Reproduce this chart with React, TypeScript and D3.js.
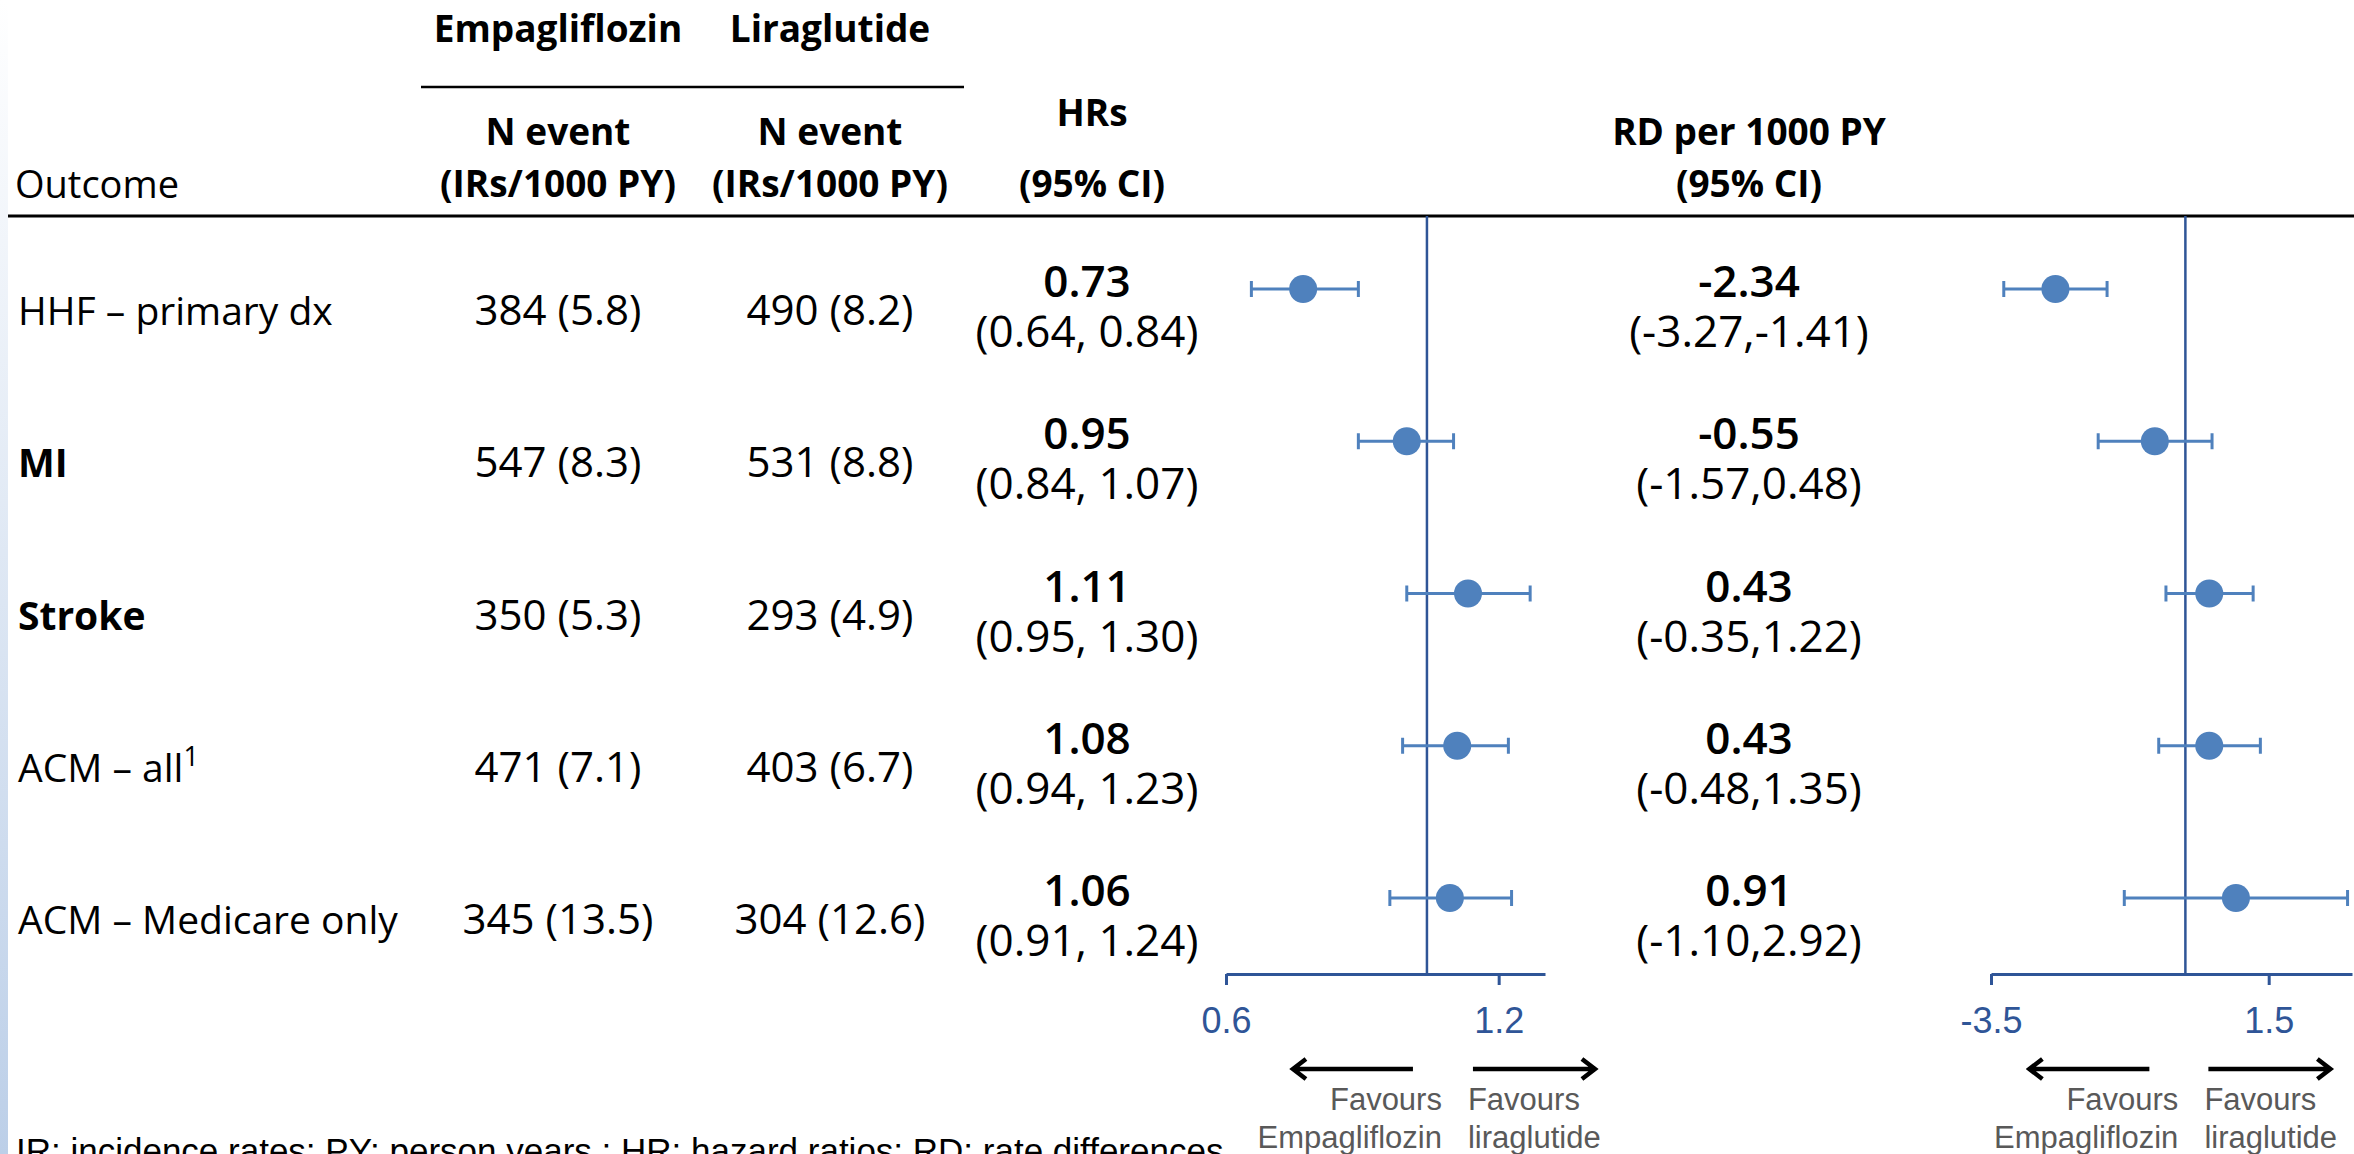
import React, { useEffect, useRef } from "react";
import * as d3 from "d3";

const width = 2354;
const height = 1154;

// table rows
const outcomes = ["HHF – primary dx", "MI", "Stroke", "ACM – all", "ACM – Medicare only"];
const outcomeNotes = ["", "", "", "1", ""];
const empaEvents = [384, 547, 350, 471, 345];
const empaRates = [5.8, 8.3, 5.3, 7.1, 13.5];
const liraEvents = [490, 531, 293, 403, 304];
const liraRates = [8.2, 8.8, 4.9, 6.7, 12.6];

// hazard ratios (95% CI)
const hr = [0.73, 0.95, 1.11, 1.08, 1.06];
const hrLow = [0.64, 0.84, 0.95, 0.94, 0.91];
const hrHigh = [0.84, 1.07, 1.3, 1.23, 1.24];

// rate differences per 1000 PY (95% CI)
const rd = [-2.34, -0.55, 0.43, 0.43, 0.91];
const rdLow = [-3.27, -1.57, -0.35, -0.48, -1.1];
const rdHigh = [-1.41, 0.48, 1.22, 1.35, 2.92];

const hrTicks = [0.6, 1.2];
const rdTicks = [-3.5, 1.5];
const drugs = ["Empagliflozin", "Liraglutide"];
const favours = ["Empagliflozin", "liraglutide"];
const footnote = "IR: incidence rates; PY: person years ; HR: hazard ratios; RD: rate differences";

// styles
const tableFont = "'Open Sans', sans-serif";
const axisFont = "'Liberation Sans', Arial, sans-serif";
const dotColor = "#4F81BD";
const lineColor = "#2F5597";
const boldRows = new Set(["MI", "Stroke"]);

// layout
const topRule = 216;
const axisY = 974;
const colX = { outcome: 18, empa: 558, lira: 830, hr: 1087, rd: 1749 };

const yRow = d3.scalePoint<string>().domain(outcomes).range([289, 898]);
const xHr = d3.scaleLog().domain([0.6, 1.35]).range([1226, 1545]);
const xRd = d3.scaleLinear().domain([-3.5, 3]).range([1991, 2352]);

const f2 = (v: number) => d3.format(".2f")(v).replace(/−/g, "-");
const f1 = d3.format(".1f");

const panels = [
  {
    key: "hr",
    scale: xHr,
    ref: 1,
    ticks: hrTicks,
    est: hr,
    lo: hrLow,
    hi: hrHigh,
    arrows: { lTail: -14, lTip: -134, rTail: 46, rTip: 168, lText: 15, rText: 41 },
  },
  {
    key: "rd",
    scale: xRd,
    ref: 0,
    ticks: rdTicks,
    est: rd,
    lo: rdLow,
    hi: rdHigh,
    arrows: { lTail: -36, lTip: -156, rTail: 23, rTip: 145, lText: -7, rText: 19 },
  },
];

const Axis = ({ scale, ticks }: { scale: any; ticks: number[] }) => {
  const ref = useRef<SVGGElement>(null);
  useEffect(() => {
    const g = d3.select(ref.current);
    g.call(
      d3
        .axisBottom(scale)
        .tickValues(ticks)
        .tickFormat((d: any) => String(d))
        .tickSize(11)
        .tickSizeOuter(0)
        .tickPadding(22)
    );
    g.select(".domain").attr("stroke", lineColor).attr("stroke-width", 3);
    g.selectAll(".tick line").attr("stroke", lineColor).attr("stroke-width", 3);
    g.selectAll(".tick text")
      .attr("fill", lineColor)
      .attr("font-size", 36)
      .attr("font-family", axisFont);
  }, [scale, ticks]);
  return <g ref={ref} transform={`translate(0,${axisY})`} />;
};

const Arrow = ({ tail, tip, y }: { tail: number; tip: number; y: number }) => {
  const d = tip < tail ? 13 : -13;
  return (
    <path
      d={`M${tail},${y}H${tip}M${tip + d},${y - 10}L${tip},${y}L${tip + d},${y + 10}`}
      stroke="#000"
      strokeWidth={4.5}
      fill="none"
    />
  );
};

const App = () => {
  return (
    <svg
      width={width}
      height={height}
      style={{ position: "absolute", left: 0, top: 0, background: "#fff" }}
    >
      <defs>
        <linearGradient id="edge" x1="0" y1="0" x2="0" y2="1">
          <stop offset="0" stopColor="#ffffff" />
          <stop offset="1" stopColor="#bccfe8" />
        </linearGradient>
      </defs>
      <rect x={0} y={0} width={8} height={height} fill="url(#edge)" />

      {/* header */}
      <g fontFamily={tableFont} fontWeight={700} fontSize={37} textAnchor="middle" fill="#000">
        <text x={colX.empa} y={42}>{drugs[0]}</text>
        <text x={colX.lira} y={42}>{drugs[1]}</text>
        <text x={colX.empa} y={145}>N event</text>
        <text x={colX.lira} y={145}>N event</text>
        <text x={colX.empa} y={197}>(IRs/1000 PY)</text>
        <text x={colX.lira} y={197}>(IRs/1000 PY)</text>
        <text x={colX.hr + 5} y={126}>HRs</text>
        <text x={colX.hr + 5} y={197}>(95% CI)</text>
        <text x={colX.rd} y={145}>RD per 1000 PY</text>
        <text x={colX.rd} y={197}>(95% CI)</text>
      </g>
      <text x={colX.outcome - 3} y={198} fontFamily={tableFont} fontSize={38}>
        Outcome
      </text>
      <line x1={421} x2={964} y1={87} y2={87} stroke="#000" strokeWidth={2.5} />
      <line x1={8} x2={width} y1={topRule} y2={topRule} stroke="#000" strokeWidth={3} />

      {/* table rows */}
      {outcomes.map((o, i) => {
        const y = yRow(o)!;
        return (
          <g key={o} fontFamily={tableFont} fill="#000">
            <text
              x={colX.outcome}
              y={y + 36}
              fontSize={39}
              fontWeight={boldRows.has(o) ? 700 : 400}
            >
              {o}
              {outcomeNotes[i] && (
                <tspan fontSize={27} dy={-16}>
                  {outcomeNotes[i]}
                </tspan>
              )}
            </text>
            <g fontSize={42} textAnchor="middle">
              <text x={colX.empa} y={y + 36}>
                {`${empaEvents[i]} (${f1(empaRates[i])})`}
              </text>
              <text x={colX.lira} y={y + 36}>
                {`${liraEvents[i]} (${f1(liraRates[i])})`}
              </text>
            </g>
            <g fontSize={44} textAnchor="middle">
              <text x={colX.hr} y={y + 8} fontWeight={600}>
                {f2(hr[i])}
              </text>
              <text x={colX.hr} y={y + 58}>
                {`(${f2(hrLow[i])}, ${f2(hrHigh[i])})`}
              </text>
              <text x={colX.rd} y={y + 8} fontWeight={600}>
                {f2(rd[i])}
              </text>
              <text x={colX.rd} y={y + 58}>
                {`(${f2(rdLow[i])},${f2(rdHigh[i])})`}
              </text>
            </g>
          </g>
        );
      })}

      {/* forest panels */}
      {panels.map((p) => {
        const xr = p.scale(p.ref);
        const a = p.arrows;
        return (
          <g key={p.key}>
            <line x1={xr} x2={xr} y1={topRule} y2={axisY} stroke={lineColor} strokeWidth={2.5} />
            {outcomes.map((o, i) => {
              const y = yRow(o)!;
              const x0 = p.scale(p.lo[i]);
              const x1 = p.scale(p.hi[i]);
              return (
                <g key={o} stroke={dotColor} strokeWidth={3}>
                  <line x1={x0} x2={x1} y1={y} y2={y} />
                  <line x1={x0} x2={x0} y1={y - 8} y2={y + 8} />
                  <line x1={x1} x2={x1} y1={y - 8} y2={y + 8} />
                  <circle cx={p.scale(p.est[i])} cy={y} r={14} fill={dotColor} stroke="none" />
                </g>
              );
            })}
            <Axis scale={p.scale} ticks={p.ticks} />
            <Arrow tail={xr + a.lTail} tip={xr + a.lTip} y={1069} />
            <Arrow tail={xr + a.rTail} tip={xr + a.rTip} y={1069} />
            <g fontFamily={axisFont} fontSize={31} fill="#595959">
              <text x={xr + a.lText} y={1110} textAnchor="end">Favours</text>
              <text x={xr + a.lText} y={1148} textAnchor="end">{favours[0]}</text>
              <text x={xr + a.rText} y={1110}>Favours</text>
              <text x={xr + a.rText} y={1148}>{favours[1]}</text>
            </g>
          </g>
        );
      })}

      <text x={16} y={1163} fontFamily={axisFont} fontSize={35} fill="#000">
        {footnote}
      </text>
    </svg>
  );
};

export default App;
